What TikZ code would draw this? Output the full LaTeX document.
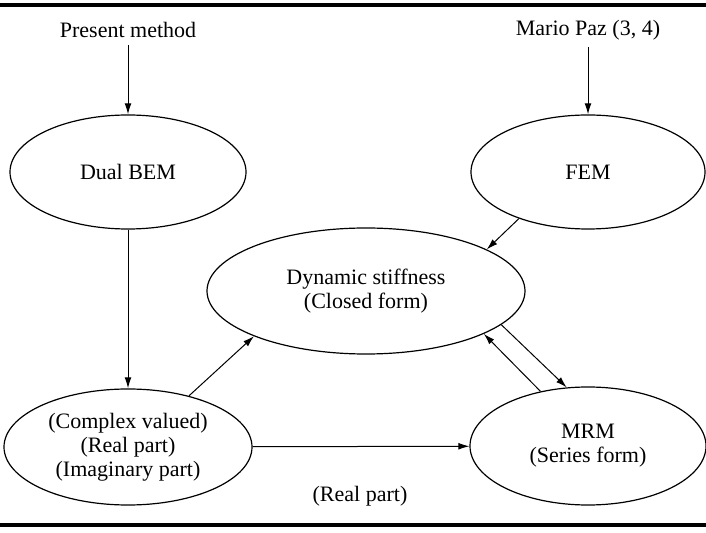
\documentclass[tikz,border=0pt]{standalone}
\usepackage{fontspec}
\setmainfont{Liberation Serif}
\usetikzlibrary{arrows.meta,shapes.geometric}

\begin{document}
\begin{tikzpicture}[x=0.5pt,y=-0.5pt,
  box/.style={draw, ellipse, line width=0.6pt, inner sep=0pt, align=center,
    font=\fontsize{11}{12}\selectfont},
  lbl/.style={font=\fontsize{11}{12}\selectfont},
  arr/.style={-{Latex[length=5.5pt,width=3.4pt]}, line width=0.5pt}]
  \useasboundingbox (0,0) rectangle (706,533);

  \coordinate (tl) at (0,5);
  \coordinate (tr) at (706,5);
  \coordinate (bl) at (0,525);
  \coordinate (br) at (706,525);
  \draw[line width=2pt] (tl) -- (tr);
  \draw[line width=1.8pt] (bl) -- (br);

  \node[lbl] (pm) at (128,30) {Present method};
  \node[lbl] (mp) at (588,30) {Mario Paz (3, 4)};
  \node[box, minimum width=118pt, minimum height=57pt] (dbem) at (128,172) {Dual BEM};
  \node[box, minimum width=117pt, minimum height=57pt] (fem) at (588,172) {FEM};
  \node[box, minimum width=159pt, minimum height=63pt] (dyn) at (366,291)
    {Dynamic stiffness\\(Closed form)};
  \node[box, minimum width=124pt, minimum height=58pt] (cplx) at (128,447)
    {(Complex valued)\\(Real part)\\(Imaginary part)};
  \node[box, minimum width=118pt, minimum height=59pt] (mrm) at (588,446)
    {MRM\\(Series form)};
  \node[lbl] (rp) at (360,496) {(Real part)};

  \draw[arr] (pm) -- (dbem);
  \draw[arr] (mp) -- (fem);
  \draw[arr] (dbem) -- (cplx);
  \draw[arr] (fem.214) -- (dyn.19);
  \draw[arr] (cplx.40) -- (dyn.202);
  \draw[arr] (cplx) -- (mrm);
  \draw[arr] (dyn.-14) -- (mrm.110);
  \draw[arr] (mrm.131) -- (dyn.-20);
\end{tikzpicture}
\end{document}
